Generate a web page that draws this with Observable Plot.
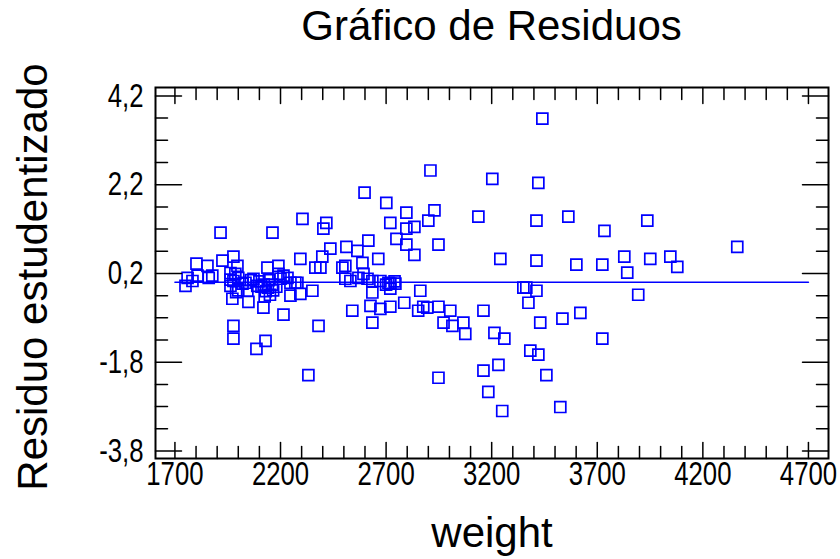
<!DOCTYPE html>
<html><head><meta charset="utf-8">
<script src="https://cdn.jsdelivr.net/npm/d3@7"></script>
<script src="https://cdn.jsdelivr.net/npm/@observablehq/plot@0.6"></script>
<style>
body{margin:0;background:#fff;font-family:"Liberation Sans",Arial,sans-serif;}
#title{box-sizing:border-box;height:50px;padding:2px 12px 0 155px;font-size:42px;line-height:48px;text-align:center;color:#000;white-space:nowrap;}
</style></head><body>
<div id="title">Gráfico de Residuos</div>
<div id="chart"></div>
<script>
const chartTitle = "Gráfico de Residuos";
const xLabel = "weight";
const yLabel = "Residuo estudentizado";

const weight = [
2910,3203,3421,3440,2598,2701,2796,2929,2304,3137,2417,2403,2720,2900,2834,2796,1916,2162,2616,2749,
2796,2948,2834,2436,2512,2564,2294,2398,2663,1925,1977,1802,1854,2138,2190,2507,2588,1996,3412,3563,
3734,3937,4363,3241,3412,3601,3724,3828,3842,3951,4046,4079,
2365,2389,1760,1783,1750,1807,1860,1877,1963,1986,2000,1963,1977,1963,2020,2034,2072,2043,1972,2048,
2100,2110,2120,2130,2140,2150,2160,2165,2125,2145,2119,2214,2190,2214,2233,2200,2247,2270,2247,2294,
2351,2380,1977,1977,2129,2086,2332,2493,2507,2531,2569,2593,2612,2635,2673,2711,2720,2744,2635,2720,
2540,2626,2673,2720,2635,2786,2862,2852,2876,2895,2948,3004,2972,3014,3066,3075,3161,3161,2948,3184,
3350,3364,3412,3374,3894,3213,3260,3430,3535,3620,3724,3383,3421,3232,3250,3525,3459,
2280,2180,2090,2060,2740,2700,2000,1990
];
const residual = [
2.52,2.33,2.24,3.69,2.02,1.79,1.57,1.62,1.43,1.48,1.34,1.21,1.34,1.39,1.25,1.21,1.12,1.12,0.94,0.98,
0.85,0.85,0.62,0.76,0.80,0.71,0.53,0.58,0.53,0.49,0.58,0.42,0.37,0.33,0.37,0.37,0.44,0.37,1.39,1.48,
1.16,1.39,0.80,0.53,0.49,0.40,0.40,0.58,0.22,0.53,0.58,0.35,
0.33,0.33,0.10,0.03,-0.08,0.15,0.10,0.15,0.21,0.19,0.10,0.06,0.03,-0.08,-0.03,-0.01,0.08,-0.19,-0.37,-0.44,
0.02,-0.10,-0.05,-0.20,-0.12,-0.28,-0.05,-0.18,-0.32,0.05,-0.57,-0.73,0.19,0.15,0.10,0.08,-0.01,-0.01,-0.30,-0.26,
-0.19,-0.98,-0.98,-1.27,-1.32,-1.50,-2.09,0.33,0.08,0.03,0.10,0.19,0.08,0.03,0.03,-0.01,-0.03,-0.03,-0.23,-0.14,
-0.64,-0.53,-0.60,-0.55,-0.91,-0.46,-0.19,-0.64,-0.55,-0.57,-0.55,-0.64,-0.91,-0.98,-0.91,-1.16,-0.64,-1.99,-2.15,-2.47,
-0.12,-0.12,-0.19,-0.46,-0.28,-1.14,-1.27,-0.91,-0.82,-0.69,-1.27,-1.54,-1.63,-1.86,-2.90,-2.81,-2.09,
-0.01,-0.10,-0.08,0.05,0.02,-0.05,-0.18,-0.22
];
const fitWeight = [1700, 4700];
const fitResidual = [0, 0];

const xMajorTicks = [1700, 2200, 2700, 3200, 3700, 4200, 4700];
const xMinorTicks = d3.range(1700, 4701, 100);
const yMajorTicks = [4.2, 2.2, 0.2, -1.8, -3.8];
const yMinorTicks = [4.2, 3.7, 3.2, 2.7, 2.2, 1.7, 1.2, 0.7, 0.2, -0.3, -0.8, -1.3, -1.8, -2.3, -2.8, -3.3, -3.8];

const points = weight.map((w, i) => ({w, r: residual[i]}));
const fit = fitWeight.map((w, i) => ({w, r: fitResidual[i]}));

const tickShape = {draw(ctx, l) { ctx.moveTo(0, 0); ctx.lineTo(0, -l); }};
const isMajorX = d => xMajorTicks.includes(d);
const isMajorY = d => yMajorTicks.some(v => Math.abs(v - d) < 1e-9);
const fmtY = d => d.toFixed(1).replace(".", ",");

const ink = "#000";
const blue = "#0000ff";

const plot = Plot.plot({
  width: 840,
  height: 509,
  marginTop: 37,
  marginBottom: 101,
  marginLeft: 155,
  marginRight: 12,
  style: {fontFamily: "'Liberation Sans', Arial, sans-serif", background: "white", color: "#000", overflow: "visible"},
  x: {domain: [1608, 4795]},
  y: {domain: [-3.97, 4.39]},
  marks: [
    Plot.line(fit, {x: "w", y: "r", stroke: blue, strokeWidth: 1.5}),
    Plot.dot(points, {x: "w", y: "r", symbol: "square", r: 6.2, stroke: blue, strokeWidth: 1.7, fill: "none"}),
    Plot.vector(xMinorTicks, {x: d => d, frameAnchor: "bottom", rotate: 0, anchor: "start", length: d => isMajorX(d) ? 8 : 6, shape: tickShape, stroke: ink, strokeWidth: 1.5}),
    Plot.vector(xMinorTicks, {x: d => d, frameAnchor: "top", rotate: 180, anchor: "start", length: d => isMajorX(d) ? 8 : 6, shape: tickShape, stroke: ink, strokeWidth: 1.5}),
    Plot.vector(yMinorTicks, {y: d => d, frameAnchor: "left", rotate: 90, anchor: "start", length: d => isMajorY(d) ? 13 : 6, shape: tickShape, stroke: ink, strokeWidth: 1.5}),
    Plot.vector(yMinorTicks, {y: d => d, frameAnchor: "right", rotate: -90, anchor: "start", length: d => isMajorY(d) ? 13 : 6, shape: tickShape, stroke: ink, strokeWidth: 1.5}),
    Plot.frame({stroke: ink, strokeWidth: 2}),
    Plot.axisX({ticks: xMajorTicks, tickSize: 0, tickPadding: 3, tickFormat: d => String(d), fontSize: 33, label: null}),
    Plot.axisY({ticks: yMajorTicks, tickSize: 0, tickPadding: 12, tickFormat: fmtY, fontSize: 33, label: null}),
    Plot.text([xLabel], {text: d => d, frameAnchor: "bottom", dy: 88, fontSize: 42, lineAnchor: "bottom", textAnchor: "middle", fill: ink}),
    Plot.text([yLabel], {text: d => d, frameAnchor: "left", rotate: -90, dx: -109, dy: 4, fontSize: 42, lineAnchor: "bottom", textAnchor: "middle", fill: ink})
  ]
});
// condensed look of the tick labels
d3.select(plot).selectAll("g[aria-label='x-axis tick label'] text, g[aria-label='y-axis tick label'] text")
  .attr("transform", function() { return (this.getAttribute("transform") || "") + " scale(0.78,1)"; });
document.getElementById("chart").appendChild(plot);
</script>
</body></html>
